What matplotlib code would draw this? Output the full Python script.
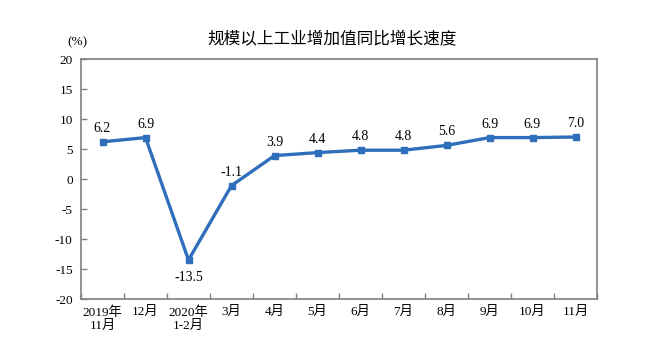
import matplotlib
matplotlib.use("Agg")
import matplotlib.pyplot as plt
import numpy as np

categories = ["2019年\n11月", "12月", "2020年\n1-2月", "3月", "4月", "5月", "6月", "7月", "8月", "9月", "10月", "11月"]
values = [6.2, 6.9, -13.5, -1.1, 3.9, 4.4, 4.8, 4.8, 5.6, 6.9, 6.9, 7.0]
yticks = [-20, -15, -10, -5, 0, 5, 10, 15, 20]
title = "规模以上工业增加值同比增长速度"

serif = ["Liberation Serif", "Noto Sans CJK SC"]
line_color = "#2F6EBA"
spine_color = "#808080"

fig = plt.figure(figsize=(6.6, 3.6), dpi=100)
ax = fig.add_axes([81/660, 1-299/360, (597-81)/660, (299-59)/360])

x = np.arange(len(values))
ax.plot(x, values, color=line_color, lw=2.4, marker="s", ms=4.5, zorder=3)

for xi, v in zip(x, values):
    if v < -5:
        ax.annotate(f"{v:.1f}", (xi, v), xytext=(0, -8), textcoords="offset points",
                    ha="center", va="top", fontsize=10, family=serif)
    else:
        ax.annotate(f"{v:.1f}", (xi, v), xytext=(0, 5), textcoords="offset points",
                    ha="center", va="bottom", fontsize=10, family=serif)

ax.set_xlim(-0.5, len(values) - 0.5)
ax.set_ylim(-20, 20)
ax.set_yticks(yticks)
ax.set_yticklabels([str(t) for t in yticks], family=serif, fontsize=9.5)
ax.set_xticks(np.arange(len(values) + 1) - 0.5)
ax.set_xticklabels([])
ax.set_xticks(x, minor=True)
ax.set_xticklabels(categories, minor=True, family=serif, fontsize=9.5, linespacing=1.2)
ax.tick_params(axis="x", which="minor", length=0, pad=5)
ax.tick_params(axis="x", which="major", direction="in", length=4, color=spine_color, width=1)
ax.tick_params(axis="y", direction="in", length=4, color=spine_color, width=1, pad=6)
for s in ax.spines.values():
    s.set_color(spine_color)
    s.set_linewidth(1.2)

fig.text(77/660, 1-42/360, "(%)", ha="center", va="center", fontsize=9.5, family=serif)
fig.text(332/660, 1-40/360, title, ha="center", va="center", fontsize=12,
         family=["Noto Sans CJK SC", "DejaVu Sans"], fontweight="medium")

fig.savefig("out.png", dpi=100)
